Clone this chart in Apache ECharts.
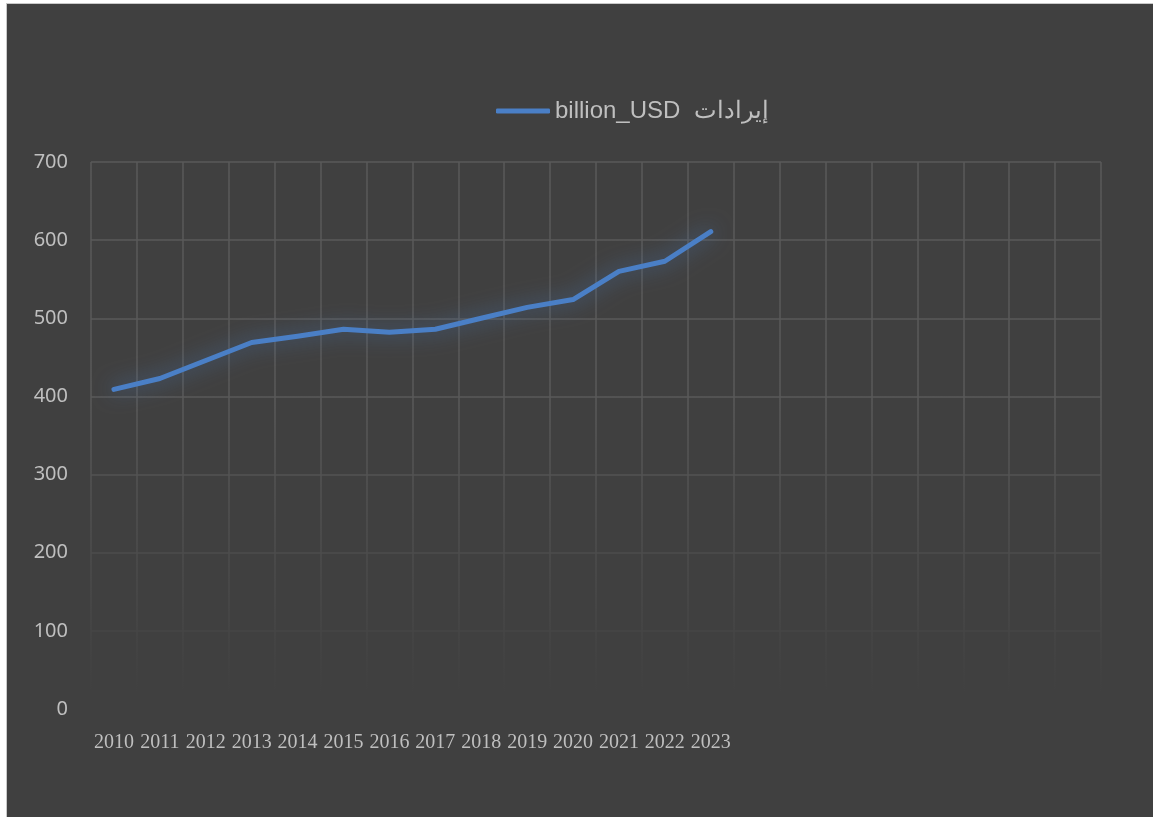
<!DOCTYPE html>
<html>
<head>
<meta charset="utf-8">
<script src="https://cdn.jsdelivr.net/npm/echarts@6/dist/echarts.min.js"></script>
<style>
	html, body { margin: 0; padding: 0; background: #ffffff; }
	#frame { position: absolute; left: 6px; top: 3px; width: 1147px; height: 814px; border-left: 1px solid #c9c9c9; border-top: 1px solid #c9c9c9; background: #404040; }
	#chart_revenue { width: 1146px; height: 813px; }
</style>
</head>
<body>
<div id="frame"><div id="chart_revenue"></div></div>
<script>
	// years shown on the axis, the rest of the columns are left empty
	var years = ['2010', '2011', '2012', '2013', '2014', '2015', '2016', '2017', '2018', '2019', '2020', '2021', '2022', '2023']
	var emptySlots = ['', '', '', '', '', '', '', '']
	var categories = years.concat(emptySlots)
	var revenue = [409, 423, 446, 469, 477, 486, 482, 486, 500, 514, 524, 560, 573, 611]
	var seriesName = 'billion_USD  إيرادات'
	var yTicks = { min: 0, max: 700, interval: 100 }

	var chart_revenue = echarts.init(document.getElementById('chart_revenue'))

	// grid lines fade out towards the bottom of the plot
	var gridFade = {
		type: 'linear', x: 0, y: 400, x2: 0, y2: 690, global: true,
		colorStops: [{ offset: 0, color: '#595959' }, { offset: 1, color: '#404040' }]
	}

	var option_revenue = {
		backgroundColor: '#404040',
		animation: false,
		legend: {
			left: 484,
			top: 90,
			icon: 'roundRect',
			itemWidth: 54,
			itemHeight: 5,
			data: [seriesName],
			textStyle: { color: '#bfbfbf', fontSize: 24, fontFamily: 'Liberation Sans' }
		},
		grid: { left: 84, right: 52, top: 158, bottom: 108 },
		xAxis: {
			type: 'category',
			boundaryGap: true,
			data: categories,
			axisLine: { show: false },
			axisTick: { show: false },
			axisLabel: { color: '#bfbfbf', fontSize: 20, fontFamily: 'Liberation Serif', margin: 24, interval: 0 },
			splitLine: { show: true, interval: 0, lineStyle: { color: gridFade, width: 1.5 } }
		},
		yAxis: {
			type: 'value',
			min: yTicks.min,
			max: yTicks.max,
			interval: yTicks.interval,
			axisLine: { show: false },
			axisTick: { show: false },
			axisLabel: { color: '#bfbfbf', fontSize: 20, fontFamily: 'Noto Sans', margin: 23 },
			splitLine: { lineStyle: { color: gridFade, width: 1.5 } }
		},
		series: [{
			name: seriesName,
			type: 'line',
			data: revenue,
			symbol: 'none',
			color: '#4a7fc6',
			lineStyle: {
				width: 5,
				cap: 'round',
				join: 'round',
				shadowColor: 'rgba(74,127,198,0.65)',
				shadowBlur: 20
			}
		}]
	}
	chart_revenue.setOption(option_revenue)
</script>
</body>
</html>
